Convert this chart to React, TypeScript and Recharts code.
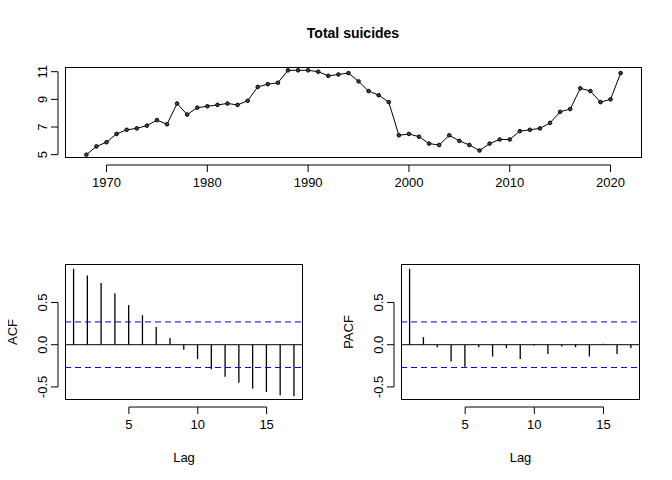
import React from "react";
import { ComposedChart, LineChart, Line, Bar, XAxis, YAxis, ReferenceLine } from "recharts";

const years = [1968,1969,1970,1971,1972,1973,1974,1975,1976,1977,1978,1979,1980,1981,1982,1983,1984,1985,1986,1987,1988,1989,1990,1991,1992,1993,1994,1995,1996,1997,1998,1999,2000,2001,2002,2003,2004,2005,2006,2007,2008,2009,2010,2011,2012,2013,2014,2015,2016,2017,2018,2019,2020,2021];
const suicides = [5.0,5.6,5.9,6.5,6.8,6.9,7.1,7.5,7.2,8.7,7.9,8.4,8.5,8.6,8.7,8.6,8.9,9.9,10.1,10.2,11.1,11.1,11.1,11.0,10.7,10.8,10.9,10.3,9.6,9.3,8.8,6.4,6.5,6.3,5.8,5.7,6.4,6.0,5.7,5.3,5.8,6.1,6.1,6.7,6.8,6.9,7.3,8.1,8.3,9.8,9.6,8.8,9.0,10.9];
const lags = [1,2,3,4,5,6,7,8,9,10,11,12,13,14,15,16,17];
const acfValues = [0.90,0.82,0.73,0.61,0.47,0.35,0.21,0.08,-0.06,-0.17,-0.29,-0.38,-0.45,-0.52,-0.56,-0.60,-0.61];
const pacfValues = [0.90,0.09,-0.03,-0.20,-0.26,-0.03,-0.14,-0.04,-0.17,-0.01,-0.11,-0.02,-0.03,-0.14,0.01,-0.11,-0.04];
const confUpper = 0.27;
const confLower = -0.27;
const yearTicks = [1970,1980,1990,2000,2010,2020];
const suicideTicks = [5,7,9,11];
const lagTicks = [5,10,15];
const corrTicks = [-0.5,0,0.5];

const FONT = "'Liberation Sans', Arial, sans-serif";

const tsData = years.map((y, i) => ({ year: y, value: suicides[i] }));
const acfData = lags.map((l, i) => ({ lag: l, v: acfValues[i] }));
const pacfData = lags.map((l, i) => ({ lag: l, v: pacfValues[i] }));

function makeXTick(ticks: number[], pxPerUnit: number) {
  return (props: any) => {
    const { x, y, payload } = props;
    const idx = ticks.indexOf(payload.value);
    const next = idx >= 0 && idx < ticks.length - 1 ? (ticks[idx + 1] - ticks[idx]) * pxPerUnit : 0;
    return (
      <g>
        {next > 0 && <line x1={x} x2={x + next} y1={y + 7} y2={y + 7} stroke="#000" />}
        <line x1={x} x2={x} y1={y + 7} y2={y + 14} stroke="#000" />
        <text x={x} y={y + 29} textAnchor="middle" fontSize={13} fontFamily={FONT} fill="#000">{payload.value}</text>
      </g>
    );
  };
}

function makeYTick(ticks: number[], pxPerUnit: number) {
  return (props: any) => {
    const { x, y, payload } = props;
    const idx = ticks.indexOf(payload.value);
    const next = idx >= 0 && idx < ticks.length - 1 ? (ticks[idx + 1] - ticks[idx]) * pxPerUnit : 0;
    const label = Math.abs(payload.value) < 1 ? payload.value.toFixed(1) : String(payload.value);
    return (
      <g>
        {next > 0 && <line x1={x - 7} x2={x - 7} y1={y} y2={y - next} stroke="#000" />}
        <line x1={x - 7} x2={x - 14} y1={y} y2={y} stroke="#000" />
        <text transform={`translate(${x - 18},${y}) rotate(-90)`} textAnchor="middle" fontSize={13} fontFamily={FONT} fill="#000">{label}</text>
      </g>
    );
  };
}

const Box = ({ l, t, r, b }: any) => (
  <div style={{ position: "absolute", left: l, top: t, width: r - l, height: b - t, border: "1px solid #000", boxSizing: "border-box", pointerEvents: "none" }} />
);

const Label = ({ x, y, text, rotate, bold, size }: any) => (
  <div style={{ position: "absolute", left: x, top: y, transform: `translate(-50%,-50%)${rotate ? " rotate(-90deg)" : ""}`, fontFamily: FONT, fontSize: size || 13, fontWeight: bold ? "bold" : "normal", whiteSpace: "nowrap" }}>{text}</div>
);

function CorrChart({ data, left, right, name }: any) {
  const top = 264, bottom = 400;
  const dom: [number, number] = [-0.655, 0.956];
  const xdom: [number, number] = [0.36, 17.64];
  const pxX = (right - left) / (xdom[1] - xdom[0]);
  const pxY = (bottom - top) / (dom[1] - dom[0]);
  return (
    <>
      <div style={{ position: "absolute", left: 0, top: 0 }}>
        <ComposedChart width={right + 20} height={bottom + 40} data={data} margin={{ top, left: left - 40, right: 20, bottom: 10 }}>
          <XAxis dataKey="lag" type="number" domain={xdom} ticks={lagTicks} axisLine={false} tickLine={false} tickSize={0} tickMargin={0} height={30} tick={makeXTick(lagTicks, pxX)} interval={0} allowDataOverflow />
          <YAxis type="number" domain={dom} ticks={corrTicks} axisLine={false} tickLine={false} tickSize={0} tickMargin={0} width={40} tick={makeYTick(corrTicks, pxY)} interval={0} allowDataOverflow />
          <ReferenceLine key="upper" y={confUpper} stroke="#0000ff" strokeDasharray="6 4" />
          <ReferenceLine key="lower" y={confLower} stroke="#0000ff" strokeDasharray="6 4" />
          <ReferenceLine key="zero" y={0} stroke="#000" />
          <Bar dataKey="v" fill="#000" barSize={1.3} isAnimationActive={false} />
        </ComposedChart>
      </div>
      <Box l={left} t={top} r={right} b={bottom} />
      <Label x={(left + right) / 2} y={457} text="Lag" />
      <Label x={left - 53} y={(top + bottom) / 2} text={name} rotate />
    </>
  );
}

export default function App() {
  const tl = 65, tr = 642, tt = 67, tb = 158;
  const xdom: [number, number] = [1965.88, 2023.12];
  const ydom: [number, number] = [4.76, 11.34];
  const pxX = (tr - tl) / (xdom[1] - xdom[0]);
  const pxY = (tb - tt) / (ydom[1] - ydom[0]);
  return (
    <div style={{ position: "relative", margin: -8, width: 672, height: 480, background: "#fff", overflow: "hidden" }}>
      <div style={{ position: "absolute", left: 0, top: 0 }}>
        <LineChart width={672} height={200} data={tsData} margin={{ top: tt, left: tl - 40, right: 672 - tr, bottom: 200 - tb - 30 }}>
          <XAxis dataKey="year" type="number" domain={xdom} ticks={yearTicks} axisLine={false} tickLine={false} tickSize={0} tickMargin={0} height={30} tick={makeXTick(yearTicks, pxX)} interval={0} allowDataOverflow />
          <YAxis type="number" domain={ydom} ticks={suicideTicks} axisLine={false} tickLine={false} tickSize={0} tickMargin={0} width={40} tick={makeYTick(suicideTicks, pxY)} interval={0} allowDataOverflow />
          <Line dataKey="value" stroke="#000" strokeWidth={1} dot={{ r: 1.8, stroke: "#000", strokeWidth: 1, fill: "#444" }} isAnimationActive={false} />
        </LineChart>
      </div>
      <Box l={tl} t={tt} r={tr} b={tb} />
      <Label x={353} y={33} text="Total suicides" bold size={14} />
      <CorrChart data={acfData} left={65} right={303} name="ACF" />
      <CorrChart data={pacfData} left={401} right={640} name="PACF" />
    </div>
  );
}
